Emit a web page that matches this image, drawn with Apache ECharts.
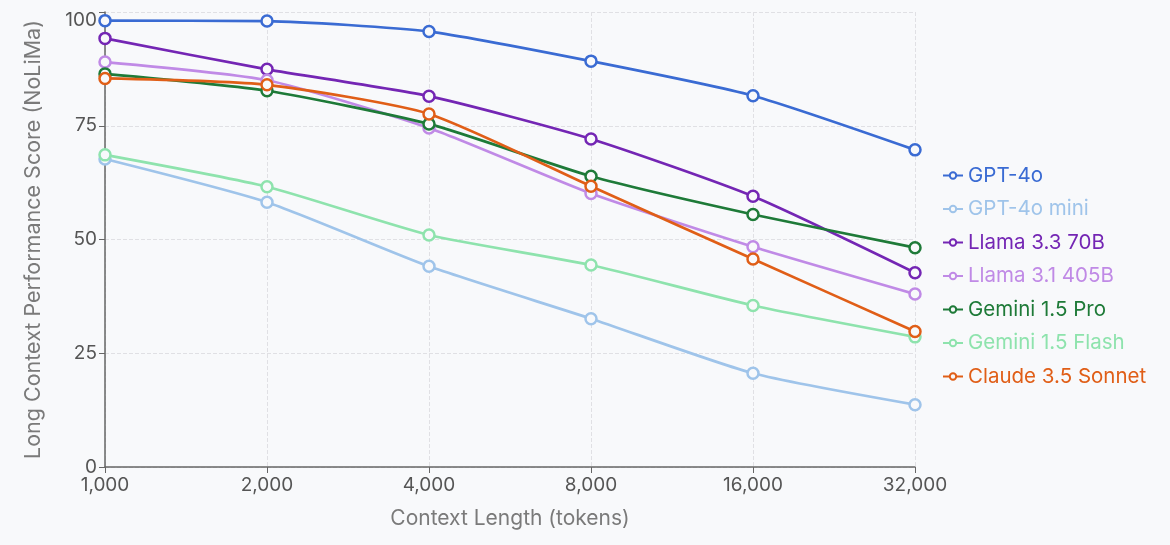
<!DOCTYPE html>
<html lang="en">
<head>
    <meta charset="UTF-8">
    <title>NoLiMa Long Context</title>
    <style>
        html, body { margin: 0; padding: 0; background: #f8f9fb; }
        #main { width: 1170px; height: 545px; }
    </style>
</head>
<body>
<script src="https://cdn.jsdelivr.net/npm/echarts@6/dist/echarts.min.js"></script>
<div id="main"></div>
<script>
    // context lengths (x axis)
    var contextLengths = ['1,000', '2,000', '4,000', '8,000', '16,000', '32,000'];

    // scores per model
    var gpt4o = [98.1, 98.0, 95.7, 89.2, 81.6, 69.7];
    var gpt4oMini = [67.7, 58.2, 44.1, 32.6, 20.6, 13.7];
    var llama33_70b = [94.2, 87.4, 81.5, 72.1, 59.5, 42.7];
    var llama31_405b = [89.0, 85.0, 74.5, 60.1, 48.4, 38.0];
    var geminiPro = [86.4, 82.7, 75.4, 63.9, 55.5, 48.2];
    var geminiFlash = [68.6, 61.6, 51.0, 44.4, 35.5, 28.6];
    var claudeSonnet = [85.4, 84.0, 77.6, 61.7, 45.7, 29.8];

    var modelNames = ['GPT-4o', 'GPT-4o mini', 'Llama 3.3 70B', 'Llama 3.1 405B',
        'Gemini 1.5 Pro', 'Gemini 1.5 Flash', 'Claude 3.5 Sonnet'];
    var modelData = [gpt4o, gpt4oMini, llama33_70b, llama31_405b, geminiPro, geminiFlash, claudeSonnet];
    var modelColors = ['#3a6bd3', '#9fc4ea', '#7426b4', '#c08ae6', '#1e7a38', '#8ee3ad', '#e05e17'];

    var yTicks = [0, 25, 50, 75, 100];

    var series = [];
    for (var i = 0; i < modelNames.length; i++) {
        series.push({
            name: modelNames[i],
            type: 'line',
            data: modelData[i],
            smooth: 0.2,
            symbol: 'circle',
            symbolSize: 11,
            lineStyle: { width: 2.7, color: modelColors[i] },
            itemStyle: { color: '#f8f9fb', borderColor: modelColors[i], borderWidth: 2.5 }
        });
    }

    var myChart = echarts.init(document.getElementById('main'));
    var option = {
        backgroundColor: '#f8f9fb',
        textStyle: { fontFamily: 'Inter, "Noto Sans", sans-serif' },
        animation: false,
        color: modelColors,
        grid: { left: 105, right: 255, top: 12, bottom: 78 },
        legend: {
            orient: 'vertical',
            left: 937,
            top: 160,
            itemWidth: 20,
            itemHeight: 8,
            itemGap: 12.5,
            data: modelNames.map(function (n, i) {
                return { name: n, textStyle: { color: modelColors[i] } };
            }),
            textStyle: { fontSize: 20.5 }
        },
        xAxis: {
            type: 'category',
            data: contextLengths,
            boundaryGap: false,
            name: 'Context Length (tokens)',
            nameLocation: 'middle',
            nameGap: 41,
            nameTextStyle: { fontSize: 21, color: '#7a7a7a' },
            axisLine: { lineStyle: { color: '#666', width: 1.5 } },
            axisTick: { show: true, length: 6, lineStyle: { color: '#666' } },
            axisLabel: { fontSize: 19, color: '#555', margin: 9 },
            splitLine: { show: true, lineStyle: { type: 'dashed', color: '#e0e0e4' } }
        },
        yAxis: {
            type: 'value',
            min: yTicks[0],
            max: yTicks[yTicks.length - 1],
            interval: 25,
            name: 'Long Context Performance Score (NoLiMa)',
            nameLocation: 'middle',
            nameGap: 60,
            nameTextStyle: { fontSize: 21.5, color: '#7a7a7a' },
            axisLine: { show: true, lineStyle: { color: '#666', width: 1.5 } },
            axisTick: { show: true, length: 6, lineStyle: { color: '#666' } },
            axisLabel: {
                fontSize: 19, color: '#555', margin: 8,
                formatter: function (v) {
                    return v === 100 ? '{top|100}' : String(v);
                },
                rich: { top: { fontSize: 19, color: '#555', padding: [16, 0, 0, 0] } }
            },
            splitLine: { show: true, lineStyle: { type: 'dashed', color: '#e0e0e4' } }
        },
        series: series
    };
    myChart.setOption(option);
</script>
</body>
</html>
